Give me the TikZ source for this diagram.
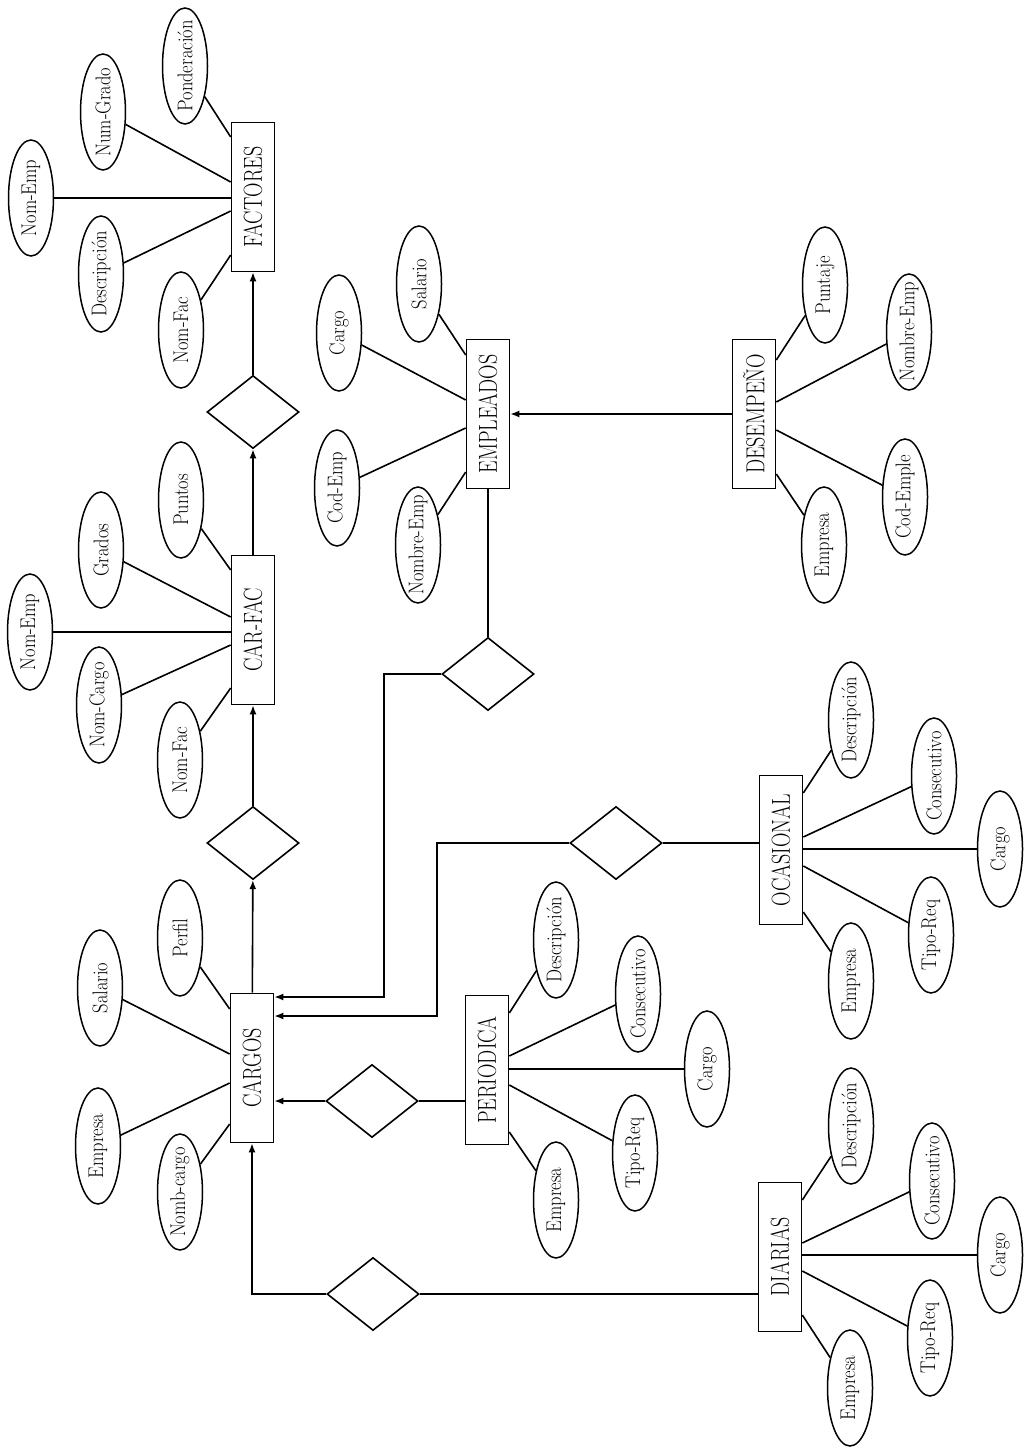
\documentclass[tikz,border=0pt]{standalone}
\usepackage{fontspec}
\usepackage{graphicx}
\usetikzlibrary{shapes.geometric,arrows.meta,calc}
\newcommand{\tallt}[1]{\scalebox{1}[1.3]{#1}}
\newcommand{\attrib}[5]{%
  \node[attr] (#1) at (#2) {\makebox[0pt]{\scalebox{1}[1.15]{#3}}};
  \draw[lnk] (#1) -- (#4 |- 0,#5);}
\begin{document}
\begin{tikzpicture}[x=1pt,y=-1pt,
  ent/.style={draw,rectangle,rotate=90,minimum width=149pt,minimum height=43pt,inner sep=0pt,line width=1.6pt,font=\fontsize{20}{20}\selectfont},
  attr/.style={draw,ellipse,rotate=90,minimum width=116pt,minimum height=45pt,inner sep=0pt,line width=1.5pt,font=\fontsize{18.5}{18.5}\selectfont},
  rel/.style={draw,diamond,minimum width=92pt,minimum height=73pt,inner sep=0pt,line width=1.6pt},
  lnk/.style={line width=1.6pt},
  arr/.style={line width=1.6pt,-{Latex[length=9pt,width=7pt]}}]
\useasboundingbox (0,0) rectangle (1024,1447);
\fill[white] (0,0) rectangle (1024,1447);

% entities
\node[ent] (FAC) at (253,197) {\tallt{FACTORES}};
\node[ent] (CF) at (253,630) {\tallt{CAR-FAC}};
\node[ent] (CAR) at (252,1068) {\tallt{CARGOS}};
\node[ent] (EMP) at (488,414) {\tallt{EMPLEADOS}};
\node[ent] (DES) at (754,414) {\tallt{DESEMPEÑO}};
\node[ent] (PER) at (487,1070) {\tallt{PERIODICA}};
\node[ent] (OCA) at (781,850) {\tallt{OCASIONAL}};
\node[ent] (DIA) at (780,1257) {\tallt{DIARIAS}};

% relationships
\node[rel] (d1) at (253,412) {};
\node[rel] (d2) at (253,843) {};
\node[rel] (d3) at (488,674) {};
\node[rel] (d4) at (616,843) {};
\node[rel] (d5) at (372,1101) {};
\node[rel] (d6) at (373,1294) {};

% connectors
\draw[arr] (d1) -- (FAC);
\draw[arr] (CF) -- (d1);
\draw[arr] (d2) -- (CF);
\draw[arr] (CAR) -- (d2);
\draw[arr] (DES) -- (EMP);
\draw[lnk] (d3) -- (EMP);
\draw[arr] (d3.west) -- ++(-57,0) |- (CAR.south |- 0,997);
\draw[lnk] (d4.east) -- (d4.east -| OCA.north);
\draw[arr] (d4.west) -- ++(-132,0) |- (CAR.south |- 0,1016);
\draw[lnk] (d5.east) -- (d5.east -| PER.north);
\draw[arr] (d5.west) -- (d5.west -| CAR.south);
\draw[lnk] (d6.east) -- (d6.east -| DIA.north);
\draw[arr] (d6.west) -| (CAR.west);

% FACTORES attributes
\attrib{fa1}{185,66}{Ponderación}{FAC.north}{137}
\attrib{fa2}{103,112}{Num-Grado}{FAC.north}{182}
\attrib{fa3}{31,198}{Nom-Emp}{FAC.north}{198}
\attrib{fa4}{101,274}{Descripción}{FAC.north}{211}
\attrib{fa5}{181,330}{Nom-Fac}{FAC.north}{255}

% CAR-FAC attributes
\attrib{cf1}{181,500}{Puntos}{CF.north}{570}
\attrib{cf2}{101,550}{Grados}{CF.north}{617}
\attrib{cf3}{30,632}{Nom-Emp}{CF.north}{632}
\attrib{cf4}{99,705}{Nom-Cargo}{CF.north}{645}
\attrib{cf5}{180,760}{Nom-Fac}{CF.north}{688}

% CARGOS attributes
\attrib{ca1}{180,938}{Perfil}{CAR.north}{1009}
\attrib{ca2}{100,988}{Salario}{CAR.north}{1054}
\attrib{ca3}{98,1146}{Empresa}{CAR.north}{1083}
\attrib{ca4}{180,1192}{Nomb-cargo}{CAR.north}{1124}

% EMPLEADOS attributes
\attrib{em1}{419,284}{Salario}{EMP.north}{355}
\attrib{em2}{339,333}{Cargo}{EMP.north}{400}
\attrib{em3}{337,488}{Cod-Emp}{EMP.north}{428}
\attrib{em4}{418,545}{Nombre-Emp}{EMP.north}{472}

% DESEMPEÑO attributes
\attrib{de1}{825,285}{Puntaje}{DES.south}{360}
\attrib{de2}{909,332}{Nombre-Emp}{DES.south}{402}
\attrib{de3}{905,497}{Cod-Emple}{DES.south}{430}
\attrib{de4}{824,545}{Empresa}{DES.south}{474}

% PERIODICA attributes
\attrib{pe1}{556,940}{Descripción}{PER.south}{1013}
\attrib{pe2}{638,994}{Consecutivo}{PER.south}{1056}
\attrib{pe3}{707,1069}{Cargo}{PER.south}{1069}
\attrib{pe4}{635,1153}{Tipo-Req}{PER.south}{1085}
\attrib{pe5}{556,1200}{Empresa}{PER.south}{1132}

% OCASIONAL attributes
\attrib{oc1}{851,720}{Descripción}{OCA.south}{793}
\attrib{oc2}{934,776}{Consecutivo}{OCA.south}{837}
\attrib{oc3}{1000,849}{Cargo}{OCA.south}{849}
\attrib{oc4}{931,935}{Tipo-Req}{OCA.south}{866}
\attrib{oc5}{851,981}{Empresa}{OCA.south}{912}

% DIARIAS attributes
\attrib{di1}{851,1126}{Descripción}{DIA.south}{1200}
\attrib{di2}{932,1181}{Consecutivo}{DIA.south}{1243}
\attrib{di3}{1000,1255}{Cargo}{DIA.south}{1255}
\attrib{di4}{930,1338}{Tipo-Req}{DIA.south}{1271}
\attrib{di5}{850,1388}{Empresa}{DIA.south}{1315}
\end{tikzpicture}
\end{document}
